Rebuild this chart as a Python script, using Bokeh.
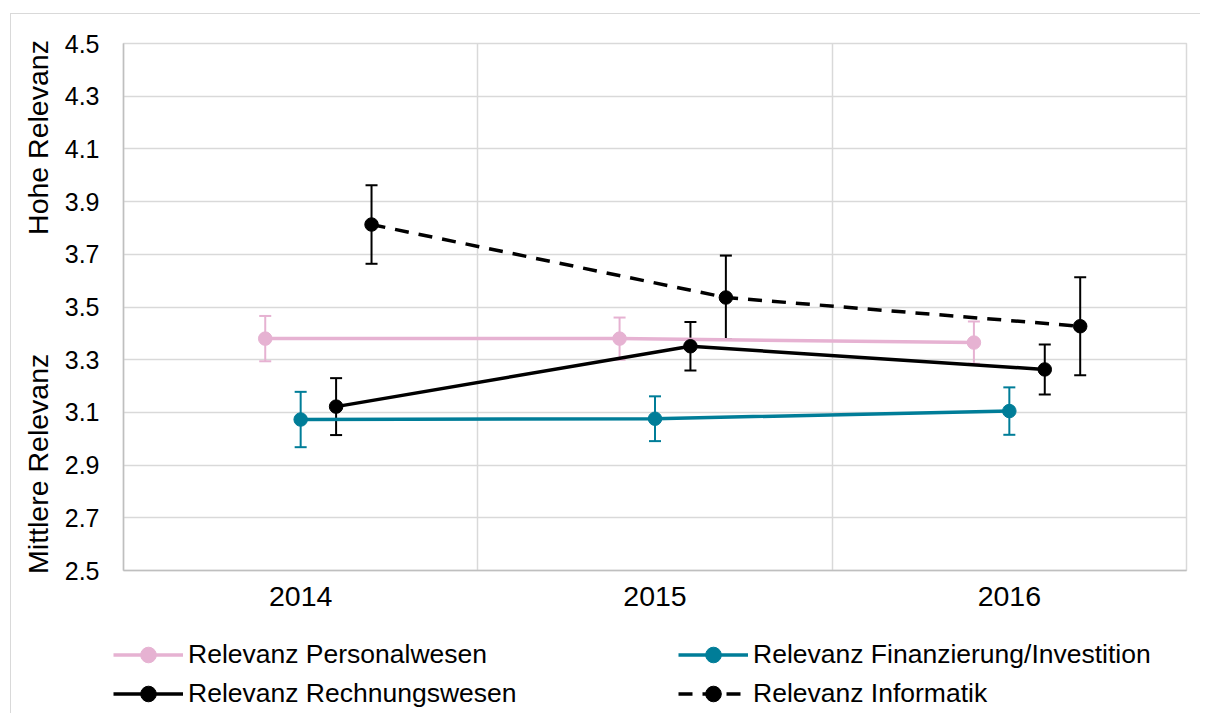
import math
from bokeh.plotting import figure
from bokeh.models import (FactorRange, Range1d, FixedTicker, Grid, Legend, LegendItem,
                          ColumnDataSource, PrintfTickFormatter)
from bokeh.transform import dodge
from bokeh.embed import file_html
from bokeh.resources import INLINE

years = ["2014", "2015", "2016"]

personal = [3.38, 3.38, 3.365]
personal_err = [0.086, 0.08, 0.08]

finanz = [3.073, 3.076, 3.105]
finanz_err = [0.105, 0.085, 0.09]

rechnung = [3.122, 3.351, 3.263]
rechnung_err = [0.108, 0.092, 0.095]

informatik = [3.813, 3.536, 3.427]
informatik_err = [0.149, 0.159, 0.186]

y_ticks = [2.5, 2.7, 2.9, 3.1, 3.3, 3.5, 3.7, 3.9, 4.1, 4.3, 4.5]
y_title_low = "Mittlere Relevanz"
y_title_high = "Hohe Relevanz"

FONT = "Liberation Sans"
GRID = "#d9d9d9"

p = figure(x_range=FactorRange(*years), y_range=Range1d(2.5, 4.5),
           width=1190, height=606, output_backend="svg", toolbar_location=None,
           min_border_left=112, min_border_top=29, min_border_right=15, min_border_bottom=50)
p.styles = {"border-left": "1px solid #d9d9d9", "border-top": "1px solid #d9d9d9",
            "margin-left": "10px", "margin-top": "13px"}

p.outline_line_color = GRID
p.outline_line_width = 1.5
p.xgrid.visible = False
p.add_layout(Grid(dimension=0, ticker=FixedTicker(ticks=[1, 2]),
                  grid_line_color=GRID, grid_line_width=1.5))
p.ygrid.ticker = FixedTicker(ticks=y_ticks)
p.ygrid.grid_line_color = GRID
p.ygrid.grid_line_width = 1.5

p.yaxis.ticker = FixedTicker(ticks=y_ticks)
p.yaxis.formatter = PrintfTickFormatter(format="%.1f")
for ax in (p.xaxis[0], p.yaxis[0]):
    ax.axis_line_color = "#bfbfbf"
    ax.axis_line_width = 1.5
    ax.major_tick_line_color = None
    ax.minor_tick_line_color = None
    ax.major_label_text_font = FONT
    ax.major_label_text_color = "#000000"
p.yaxis.major_label_text_font_size = "25px"
p.yaxis.major_label_standoff = 18
p.xaxis.major_label_text_font_size = "28.5px"
p.xaxis.major_label_standoff = 10

# two-part vertical axis title (bottom part, gap, top part)
p.yaxis.axis_label = y_title_low + "\u00a0" * 15 + y_title_high
p.yaxis.axis_label_text_font = FONT
p.yaxis.axis_label_text_font_size = "28.5px"
p.yaxis.axis_label_text_font_style = "normal"
p.yaxis.axis_label_text_color = "#000000"
p.yaxis.axis_label_standoff = 8

series = [
    ("Relevanz Personalwesen", personal, personal_err, "#E6B2D2", -0.1, "solid"),
    ("Relevanz Finanzierung/Investition", finanz, finanz_err, "#007D98", 0.0, "solid"),
    ("Relevanz Rechnungswesen", rechnung, rechnung_err, "#000000", 0.1, "solid"),
    ("Relevanz Informatik", informatik, informatik_err, "#000000", 0.2, "14 10"),
]

sources = []
for name, vals, errs, color, off, dash in series:
    src = ColumnDataSource(dict(
        year=years, val=vals,
        lo=[v - e for v, e in zip(vals, errs)],
        hi=[v + e for v, e in zip(vals, errs)],
    ))
    sources.append(src)
    xs = dodge("year", off, range=p.x_range)
    p.segment(x0=xs, y0="lo", x1=xs, y1="hi", source=src, line_color=color, line_width=2)
    p.scatter(x=xs, y="lo", source=src, marker="dash", size=12, line_color=color, line_width=2)
    p.scatter(x=xs, y="hi", source=src, marker="dash", size=12, line_color=color, line_width=2)

for (name, vals, errs, color, off, dash), src in zip(series, sources):
    xs = dodge("year", off, range=p.x_range)
    p.line(x=xs, y="val", source=src, line_color=color, line_width=3.5, line_dash=dash)
    p.scatter(x=xs, y="val", source=src, marker="circle", size=13.5,
              fill_color=color, line_color=color)

# legend strip below the chart (its glyph renderers fall outside its range, only the legend shows)
lg = figure(width=1190, height=94, output_backend="svg", toolbar_location=None,
            x_range=Range1d(0, 1), y_range=Range1d(0, 1),
            x_axis_type=None, y_axis_type=None, min_border=0)
lg.styles = {"border-left": "1px solid #d9d9d9", "margin-left": "10px"}
lg.outline_line_color = None
items = []
for (name, vals, errs, color, off, dash), src in zip(series, sources):
    lr = lg.line(x="val", y="val", source=src, line_color=color, line_width=3.5, line_dash=dash)
    sr = lg.scatter(x="val", y="val", source=src, marker="circle", size=13.5,
                    fill_color=color, line_color=color)
    items.append(LegendItem(label=name, renderers=[lr, sr]))

legend_kw = dict(padding=0, margin=0, spacing=0, glyph_width=70, glyph_height=39,
                 label_height=39, label_standoff=5, border_line_color=None,
                 background_fill_alpha=0, label_text_font=FONT,
                 label_text_font_size="26.5px", label_text_color="#000000")
lg.add_layout(Legend(items=[items[0], items[2]], location=(102, 0), **legend_kw))
lg.add_layout(Legend(items=[items[1], items[3]], location=(667, 0), **legend_kw))

open("out.html", "w").write(file_html([p, lg], INLINE))
